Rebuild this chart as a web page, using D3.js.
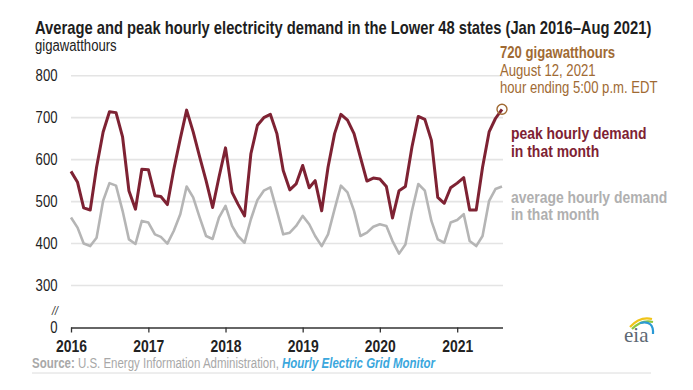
<!DOCTYPE html>
<html><head><meta charset="utf-8">
<script src="https://cdn.jsdelivr.net/npm/d3@7"></script>
<style>body{margin:0;background:#fff}svg{display:block}</style>
</head><body><svg id="c" width="693" height="390"></svg>
<script>
// ---- data (monthly, Jan 2016 – Aug 2021), gigawatthours ----
const peakDemand = [572,546,485,480,582,666,714,712,654,526,482,577,
                    576,514,512,493,576,650,718,666,606,550,486,558,
                    628,522,494,466,614,682,700,708,662,574,528,542,
                    586,533,550,478,582,662,708,694,662,606,549,556,
                    554,536,461,526,536,630,703,696,646,510,496,533,
                    544,557,480,480,582,666,698,720];
const avgDemand  = [462,438,400,394,414,502,544,538,478,410,399,454,
                    450,422,416,400,430,470,536,510,462,418,411,462,
                    490,442,418,402,458,504,526,534,478,422,426,442,
                    466,446,418,394,422,482,538,522,478,418,426,440,
                    446,442,406,376,398,478,542,526,454,410,402,450,
                    456,470,406,394,418,502,530,536];
const yTickValues = [0,300,400,500,600,700,800];
const yTickLabels = ["0","300","400","500","600","700","800"];
const xTickYears  = ["2016","2017","2018","2019","2020","2021"];
const titleText = "Average and peak hourly electricity demand in the Lower 48 states (Jan 2016\u2013Aug 2021)";
const unitText = "gigawatthours";
const peakNote = ["720 gigawatthours","August 12, 2021","hour ending 5:00 p.m. EDT"];
const peakLabel = ["peak hourly demand","in that month"];
const avgLabel = ["average hourly demand","in that month"];

const RED = "#7e2233", GRAY = "#b5b5b5", BROWN = "#a06a33";
const FF = "'Liberation Sans Narrow','Arial Narrow','Liberation Sans',Arial,sans-serif";

const svg = d3.select("#c");
svg.append("rect").attr("width",693).attr("height",390).attr("fill","#fff");

const months = d3.timeMonth.range(new Date(2016,0,1), new Date(2021,8,1));
const x = d3.scaleTime().domain([months[0], months[months.length-1]]).range([71, 502]);
const y = d3.scaleLinear().domain([200, 800]).range([327.5, 75.7]);
const yb = v => v === 0 ? y(200) : y(v);   // broken axis: 0 sits at the bottom

function txt(str, xp, yp, o = {}) {
  const t = svg.append("text").attr("class","n").attr("x",xp).attr("y",yp)
    .style("font-family",FF).style("font-size",(o.size||16)+"px")
    .style("font-weight",o.bold?"bold":"normal").attr("fill",o.fill||"#222")
    .attr("text-anchor",o.anchor||"start").text(str);
  if (o.italic) t.style("font-style","italic");
  if (o.dy) t.attr("dy",o.dy);
  return t;
}

// title + unit
txt(titleText, 35, 34.3, {size:18, bold:true, fill:"#1e1e1e"});
txt(unitText, 35, 51, {size:16, fill:"#222"});

// gridlines
svg.append("g").selectAll("line").data(yTickValues.filter(v => v > 0)).join("line")
  .attr("x1",71).attr("x2",503).attr("y1",d=>y(d)).attr("y2",d=>y(d))
  .attr("stroke","#e4e4e4").attr("stroke-width",1.6);

// y labels
yTickValues.forEach((v,i) => txt(yTickLabels[i], 57.5, yb(v), {size:16, anchor:"end", dy:"0.35em", fill:"#222"}));
txt("//", 55, 315, {size:13, anchor:"middle", italic:true, fill:"#333"});

// x axis
const ax = svg.append("g").attr("transform","translate(0,"+y(200)+")")
  .call(d3.axisBottom(x).tickValues(xTickYears.map(s => new Date(+s,0,1)))
        .tickFormat(d3.timeFormat("%Y")).tickSize(5).tickSizeOuter(0));
ax.select(".domain").attr("stroke","#333").attr("stroke-width",1.5).attr("d","M71,0.5H503");
ax.selectAll(".tick line").attr("stroke","#333").attr("stroke-width",1.3);
ax.selectAll(".tick text").attr("class","n").attr("y",12).attr("fill","#222")
  .style("font-family",FF).style("font-size","17px").style("font-weight","bold");

// lines
const line = d3.line().x((d,i) => x(months[i])).y(d => y(d));
svg.append("path").datum(avgDemand).attr("d",line).attr("fill","none")
  .attr("stroke",GRAY).attr("stroke-width",2.6).attr("stroke-linejoin","round");
svg.append("path").datum(peakDemand).attr("d",line).attr("fill","none")
  .attr("stroke",RED).attr("stroke-width",3).attr("stroke-linejoin","round");

// peak marker
const li = peakDemand.length - 1;
svg.append("circle").attr("cx",x(months[li])).attr("cy",y(peakDemand[li])).attr("r",5)
  .attr("fill","none").attr("stroke",BROWN).attr("stroke-width",1.4);

// annotations
txt(peakNote[0], 500, 57.7, {size:16, bold:true, fill:BROWN});
txt(peakNote[1], 500, 75.7, {size:16, fill:BROWN});
txt(peakNote[2], 500, 92.7, {size:16, fill:BROWN});
txt(peakLabel[0], 511, 139, {size:17, bold:true, fill:RED});
txt(peakLabel[1], 511, 156.7, {size:17, bold:true, fill:RED});
txt(avgLabel[0], 511, 203.3, {size:17, bold:true, fill:"#b0b0b0"});
txt(avgLabel[1], 511, 220.5, {size:17, bold:true, fill:"#b0b0b0"});

// source
const src = svg.append("text").attr("class","n").attr("x",32).attr("y",368.3)
  .style("font-family",FF).style("font-size","14px");
src.append("tspan").attr("fill","#a8a8a8").style("font-weight","bold").text("Source:");
src.append("tspan").attr("fill","#a8a8a8").text(" U.S. Energy Information Administration, ");
src.append("tspan").attr("fill","#3ba7dd").style("font-weight","bold").style("font-style","italic").text("Hourly Electric Grid Monitor");
svg.append("line").attr("x1",32).attr("x2",651).attr("y1",373).attr("y2",373).attr("stroke","#dcdcdc").attr("stroke-width",1);

// eia logo
const lg = svg.append("g");
lg.append("path").attr("d","M630,327 Q640,316 652,319").attr("fill","none").attr("stroke","#f0c419").attr("stroke-width",2.2);
lg.append("path").attr("d","M632,329 Q642,319 653,322").attr("fill","none").attr("stroke","#8dc63f").attr("stroke-width",2.2);
lg.append("path").attr("d","M640,323 Q654,320 653,334").attr("fill","none").attr("stroke","#2b9ad6").attr("stroke-width",2.2);
lg.append("text").attr("x",624).attr("y",342).style("font-family","'Liberation Serif','DejaVu Serif',serif")
  .style("font-size","21px").attr("fill","#5d6873").text("eia");

// narrow-font fallback: if no narrow face is installed, compress Liberation Sans horizontally
const p1 = svg.append("text").style("font-family","'Liberation Sans Narrow','Liberation Sans'").style("font-size","20px").text("abcdefghijklmnop");
const p2 = svg.append("text").style("font-family","'Liberation Sans'").style("font-size","20px").text("abcdefghijklmnop");
const narrowMissing = Math.abs(p1.node().getComputedTextLength() - p2.node().getComputedTextLength()) < 0.5;
p1.remove(); p2.remove();
if (narrowMissing) {
  svg.selectAll("text.n").each(function() {
    const el = d3.select(this);
    const ax0 = +el.attr("x") || 0;
    el.style("font-family","'Liberation Sans',Arial,sans-serif");
    const prev = el.attr("transform") || "";
    el.attr("transform", prev + ` translate(${ax0},0) scale(0.82,1) translate(${-ax0},0)`);
  });
}
</script>
</body></html>
